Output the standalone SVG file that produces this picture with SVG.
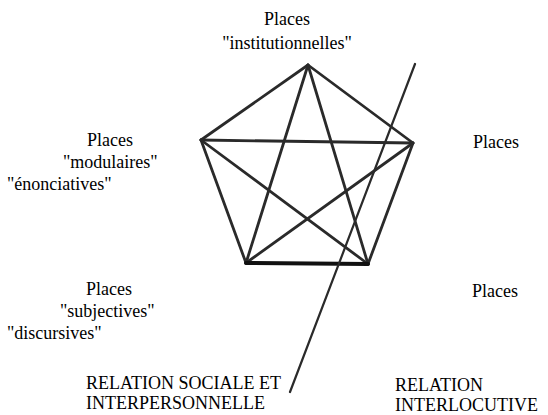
<svg xmlns="http://www.w3.org/2000/svg" width="548" height="415" viewBox="0 0 548 415">
<rect width="548" height="415" fill="#fff"/>
<g id="connectors" stroke="#2a2a2a" stroke-width="2.8" stroke-linecap="round" fill="none">
<line x1="308" y1="65" x2="201" y2="140"/>
<line x1="308" y1="65" x2="413" y2="143"/>
<line x1="308" y1="65" x2="246" y2="263"/>
<line x1="308" y1="65" x2="368" y2="264"/>
<line x1="201" y1="140" x2="413" y2="143"/>
<line x1="201" y1="140" x2="246" y2="263"/>
<line x1="201" y1="140" x2="368" y2="264"/>
<line x1="413" y1="143" x2="246" y2="263"/>
<line x1="413" y1="143" x2="368" y2="264"/>
<line x1="246" y1="263" x2="368" y2="264" stroke="#111" stroke-width="4"/>
<line x1="415" y1="64" x2="290" y2="392" stroke-width="2.2"/>
</g>
<g id="places-institutionnelles" font-family="Liberation Serif" font-size="18">
<text x="287" y="25" text-anchor="middle">Places</text>
<text x="287" y="49" text-anchor="middle">"institutionnelles"</text>
</g>
<g id="places-modulaires" font-family="Liberation Serif" font-size="18">
<text x="87" y="146">Places</text>
<text x="63" y="168">"modulaires"</text>
<text x="7" y="190">"énonciatives"</text>
</g>
<g id="places-right-top" font-family="Liberation Serif" font-size="18">
<text x="473" y="148">Places</text>
</g>
<g id="places-subjectives" font-family="Liberation Serif" font-size="18">
<text x="86" y="295">Places</text>
<text x="60" y="317">"subjectives"</text>
<text x="7" y="339">"discursives"</text>
</g>
<g id="places-right-bottom" font-family="Liberation Serif" font-size="18">
<text x="472" y="297">Places</text>
</g>
<g id="relation-sociale" font-family="Liberation Serif" font-size="18">
<text x="86" y="389">RELATION SOCIALE ET</text>
<text x="86" y="409">INTERPERSONNELLE</text>
</g>
<g id="relation-interlocutive" font-family="Liberation Serif" font-size="18">
<text x="395" y="391">RELATION</text>
<text x="395" y="411">INTERLOCUTIVE</text>
</g>
</svg>
